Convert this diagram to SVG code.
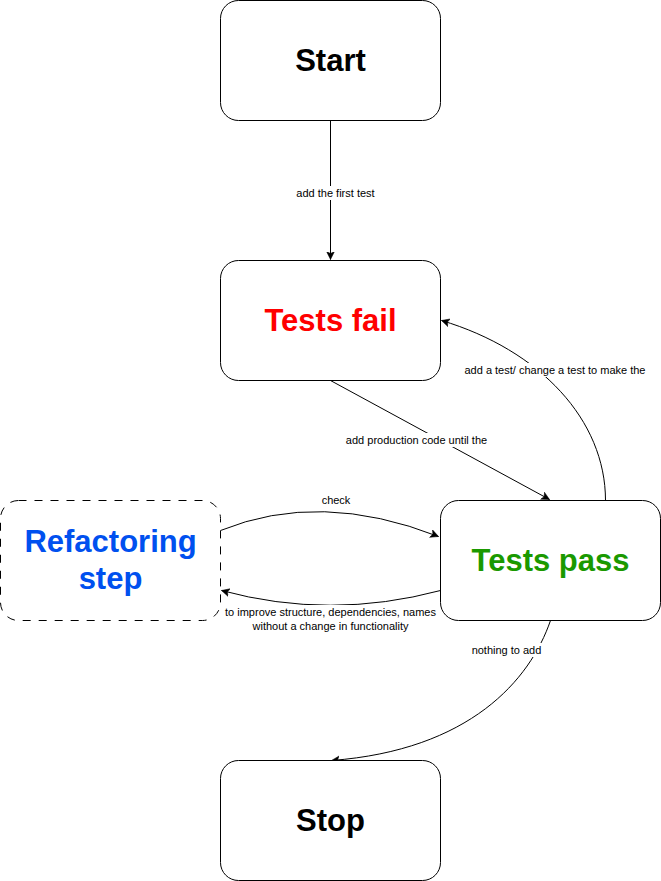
<svg xmlns="http://www.w3.org/2000/svg" width="661" height="881" viewBox="0 0 661 881">
<style>
.node{fill:#fff;stroke:#000;stroke-width:1}
.dash{stroke-dasharray:8 8}
.title{font-family:"Liberation Sans",Arial,sans-serif;font-weight:bold;font-size:31px;text-anchor:middle}
.edge{fill:none;stroke:#000;stroke-width:1;marker-end:url(#arr)}
.lbl{font-family:"Liberation Sans",Arial,sans-serif;font-size:11px;text-anchor:middle;fill:#000}
.bg{fill:#fff}
</style>
<defs>
<marker id="arr" markerUnits="userSpaceOnUse" markerWidth="10" markerHeight="10" refX="8" refY="4" orient="auto" viewBox="0 0 10 8">
<path d="M0,0 L8,4 L0,8 L2,4 Z" fill="#000" stroke="#000" stroke-width="0.5"/>
</marker>
</defs>
<g id="connectors">
<path class="edge" d="M330.5,120.5 L330.5,259.5"/>
<rect class="bg" x="294" y="186" width="83" height="14"/>
<text class="lbl" x="335.5" y="197">add the first test</text>
<path class="edge" d="M330.5,380.5 L549.5,499.5"/>
<rect class="bg" x="344" y="433" width="145" height="14"/>
<text class="lbl" x="416.5" y="444">add production code until the</text>
<path class="edge" d="M605.5,500.5 C605.5,420 540,350 441.5,320.5"/>
<rect class="bg" x="462" y="363" width="186" height="14"/>
<text class="lbl" x="555" y="374">add a test/ change a test to make the</text>
<path class="edge" d="M220.5,530.5 Q320,490 438.5,536.5"/>
<text class="lbl" x="336" y="504">check</text>
<path class="edge" d="M440.5,590.5 Q330,620 221.5,590.5"/>
<rect class="bg" x="223" y="605" width="215" height="27"/>
<text class="lbl" x="330.5" y="616">to improve structure, dependencies, names</text>
<text class="lbl" x="330.5" y="630">without a change in functionality</text>
<path class="edge" d="M550.5,620.5 C530,680 470,750 331.5,760.5"/>
<rect class="bg" x="470" y="643" width="73" height="14"/>
<text class="lbl" x="506.5" y="654">nothing to add</text>
</g>
<g id="start">
<rect class="node" x="220.5" y="0.5" width="220" height="120" rx="18" ry="18"/>
<text class="title" x="330.5" y="71" fill="#000">Start</text>
</g>
<g id="tests-fail">
<rect class="node" x="220.5" y="260.5" width="220" height="120" rx="18" ry="18"/>
<text class="title" x="330.5" y="331" fill="#FF0000">Tests fail</text>
</g>
<g id="refactoring">
<rect class="node dash" x="0.5" y="500.5" width="220" height="120" rx="18" ry="18"/>
<text class="title" x="110.5" y="552" fill="#0050EF">Refactoring</text>
<text class="title" x="110.5" y="589" fill="#0050EF">step</text>
</g>
<g id="tests-pass">
<rect class="node" x="440.5" y="500.5" width="220" height="120" rx="18" ry="18"/>
<text class="title" x="550.5" y="571" fill="#1A9900">Tests pass</text>
</g>
<g id="stop">
<rect class="node" x="220.5" y="760.5" width="220" height="120" rx="18" ry="18"/>
<text class="title" x="330.5" y="831" fill="#000">Stop</text>
</g>
</svg>
